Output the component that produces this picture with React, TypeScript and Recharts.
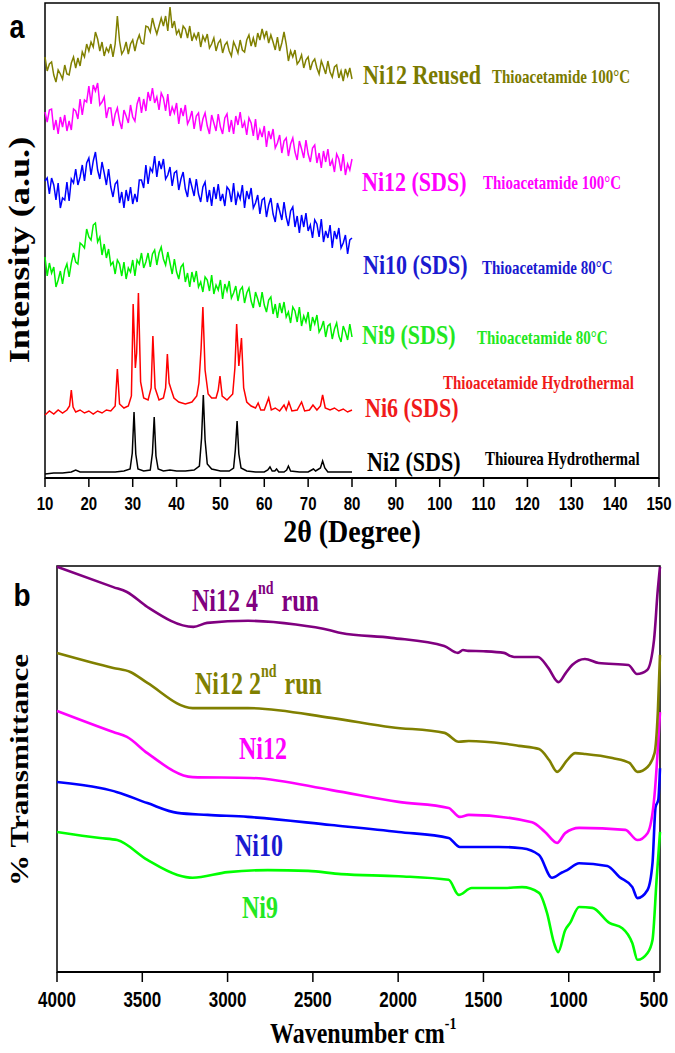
import React from "react";
import { LineChart, Line, XAxis, YAxis, ReferenceArea } from "recharts";

// ---- panel a : XRD, 2θ step 0.5° from 10 to 80 ----
const twoTheta = Array.from({ length: 141 }, (_, i) => 10 + i * 0.5);

const ni12Reused = [
  421, 407, 414, 416, 403, 396, 408, 404, 399, 413, 404, 403, 415, 421, 410, 420, 412, 426, 421, 434,
  427, 436, 431, 446, 439, 427, 436, 422, 430, 426, 434, 421, 434, 462, 437, 424, 428, 436, 424, 434,
  438, 427, 437, 443, 435, 434, 452, 451, 446, 460, 451, 444, 452, 460, 452, 462, 447, 471, 450, 457,
  444, 448, 440, 452, 449, 440, 452, 437, 444, 439, 446, 431, 442, 437, 444, 430, 434, 440, 427, 435,
  438, 425, 433, 436, 427, 422, 436, 431, 425, 438, 428, 426, 438, 443, 432, 440, 431, 445, 438, 449,
  440, 447, 435, 443, 436, 428, 441, 427, 435, 446, 434, 417, 427, 421, 428, 414, 417, 423, 410, 418,
  421, 408, 416, 419, 410, 404, 417, 411, 404, 417, 406, 401, 411, 413, 400, 407, 397, 409, 402, 410,
  399,
];

const ni12SDS = [
  366, 356, 368, 369, 348, 358, 344, 361, 351, 363, 347, 357, 348, 369, 367, 359, 379, 363, 378, 376,
  392, 374, 393, 387, 395, 373, 376, 381, 360, 370, 370, 352, 364, 370, 357, 349, 368, 362, 355, 373,
  361, 357, 374, 381, 365, 379, 367, 386, 377, 390, 375, 381, 368, 385, 380, 367, 384, 362, 371, 365,
  375, 354, 370, 362, 373, 354, 359, 367, 349, 362, 365, 347, 359, 365, 352, 344, 363, 355, 347, 364,
  351, 344, 360, 364, 346, 358, 344, 362, 353, 366, 350, 356, 343, 360, 355, 342, 359, 338, 348, 341,
  352, 331, 347, 339, 349, 330, 335, 343, 325, 337, 340, 322, 334, 340, 326, 318, 337, 329, 320, 338,
  324, 316, 330, 333, 315, 325, 310, 327, 316, 329, 312, 318, 306, 324, 319, 307, 324, 303, 314, 308,
  319,
];

const ni10SDS = [
  297, 300, 284, 300, 293, 278, 295, 270, 280, 278, 296, 277, 299, 295, 309, 293, 301, 313, 297, 315,
  320, 303, 317, 326, 308, 299, 316, 305, 293, 309, 291, 281, 294, 297, 275, 286, 270, 288, 277, 291,
  274, 284, 276, 298, 298, 290, 313, 294, 310, 306, 322, 301, 317, 309, 319, 299, 303, 311, 292, 305,
  307, 288, 299, 306, 289, 281, 300, 291, 282, 299, 284, 276, 291, 296, 276, 288, 272, 291, 279, 294,
  277, 284, 272, 291, 288, 276, 295, 273, 285, 279, 293, 270, 287, 279, 290, 270, 275, 283, 264, 278,
  280, 261, 273, 280, 264, 256, 275, 267, 258, 276, 261, 252, 267, 271, 251, 262, 245, 263, 251, 265,
  247, 253, 240, 258, 254, 241, 259, 236, 247, 240, 253, 230, 247, 239, 250, 230, 235, 243, 224, 238,
  240,
];

const ni9SDS = [
  221, 202, 215, 205, 211, 191, 198, 207, 194, 208, 214, 201, 215, 225, 216, 214, 235, 233, 230, 249,
  241, 238, 253, 255, 236, 241, 223, 234, 220, 229, 213, 216, 204, 218, 214, 202, 216, 199, 210, 206,
  218, 202, 218, 214, 225, 210, 216, 225, 211, 224, 228, 213, 225, 231, 219, 213, 226, 215, 204, 219,
  206, 199, 211, 214, 196, 205, 191, 206, 196, 207, 191, 196, 186, 201, 198, 187, 203, 184, 193, 188,
  198, 179, 194, 187, 197, 180, 185, 192, 177, 188, 191, 175, 185, 190, 177, 170, 186, 179, 171, 186,
  173, 166, 178, 181, 164, 174, 160, 175, 165, 176, 161, 166, 155, 171, 167, 156, 171, 152, 162, 156,
  166, 147, 161, 154, 163, 146, 150, 157, 141, 152, 154, 139, 149, 155, 142, 136, 152, 146, 138, 154,
  141,
];

// [2θ, intensity]
const ni6SDS = [
  [10, 63], [11, 67], [12, 64], [13, 68], [14, 65], [15, 68], [15.6, 72], [16.0, 88], [16.4, 71], [17, 66],
  [18, 68], [19, 65], [20, 67], [21, 64], [22, 67], [23, 65], [24, 68], [25, 67], [26, 72], [26.5, 109],
  [27, 74], [28, 70], [29, 72], [29.7, 82], [30.1, 174], [30.6, 110], [30.9, 125], [31.3, 185], [31.8, 96],
  [32.5, 80], [33.5, 78], [34.2, 90], [34.6, 142], [35.1, 90], [36, 78], [37, 80], [37.5, 90], [37.9, 124],
  [38.3, 95], [38.8, 88], [39.4, 80], [40.5, 76], [42, 74], [43.5, 76], [44.6, 82], [45.1, 95], [45.6, 130],
  [46.0, 171], [46.5, 108], [47.2, 84], [48, 80], [49, 80], [49.5, 88], [49.9, 102], [50.4, 82], [51.5, 78],
  [52.8, 84], [53.3, 110], [53.7, 154], [54.2, 112], [54.8, 140], [55.3, 90], [56, 76], [57, 72], [58, 70],
  [58.6, 75], [59.2, 68], [60, 68], [61, 80], [61.6, 68], [62.5, 70], [63.5, 67], [64.5, 73], [65, 68],
  [65.6, 76], [66.3, 67], [67.5, 68], [68.5, 76], [69.2, 67], [70.3, 68], [71.1, 73], [72, 68], [72.8, 72],
  [73.3, 83], [73.9, 70], [75, 68], [76, 70], [77, 67], [78, 69], [79, 66], [80, 68],
];

const ni2SDS = [
  [10, 4], [12, 5], [14, 5], [16, 6], [17, 8], [18, 6], [20, 6], [22, 6], [24, 6], [26, 6], [28, 7],
  [29.4, 9], [29.9, 25], [30.3, 66], [30.7, 24], [31.2, 9], [32.5, 7], [34, 8], [34.5, 25], [34.9, 61],
  [35.3, 22], [35.8, 9], [37, 7], [38.5, 8], [40, 7], [42, 7], [44, 8], [45.2, 12], [45.7, 40], [46.1, 83],
  [46.5, 38], [47, 14], [48, 9], [50, 7], [52, 7], [53, 10], [53.4, 28], [53.8, 57], [54.2, 24], [54.7, 10],
  [56, 7], [58, 6], [60, 6], [60.8, 8], [61.3, 11], [61.8, 7], [62.4, 7], [62.8, 9], [63.3, 6], [64.5, 6],
  [65.1, 8], [65.5, 12], [66, 7], [68, 6], [70, 6], [70.8, 8], [71.2, 9], [71.7, 7], [72.8, 10], [73.3, 17],
  [73.8, 10], [74.5, 6], [76, 6], [78, 6], [80, 6],
];

const xrdTicks = [10, 20, 30, 40, 50, 60, 70, 80, 90, 100, 110, 120, 130, 140, 150];

// ---- panel b : FTIR, [wavenumber, % transmittance (offset)] ----
const ni12Run4 = [
  [4000, 99.8], [3670, 94.8], [3590, 93.6], [3470, 89.9], [3200, 85.0], [3120, 86.0], [2880, 86.5],
  [2600, 85.6], [2400, 84.2], [2335, 83.5], [2040, 82.3], [1730, 80.3], [1650, 78.6], [1620, 79.3],
  [1590, 79.1], [1500, 79.0], [1380, 78.6], [1340, 77.8], [1320, 77.6], [1180, 77.6], [1120, 74.9],
  [1060, 71.4], [1020, 73.5], [980, 75.6], [905, 77.1], [825, 76.1], [650, 75.6], [600, 73.4],
  [540, 74.4], [500, 81.8], [478, 94.1], [465, 99.8],
];

const ni12Run2 = [
  [4000, 78.6], [3670, 74.9], [3570, 73.9], [3470, 71.2], [3205, 65.0], [2881, 65.0], [2393, 62.6],
  [2040, 60.3], [1728, 58.9], [1645, 56.7], [1586, 56.9], [1374, 56.2], [1292, 55.7], [1174, 54.9],
  [1115, 52.2], [1068, 49.3], [1009, 52.2], [962, 53.9], [903, 53.7], [744, 52.7], [644, 51.5],
  [597, 49.3], [538, 50.5], [497, 53.9], [478, 63.8], [465, 78.1],
];

const ni12 = [
  [4000, 64.3], [3670, 59.1], [3590, 57.9], [3470, 53.9], [3205, 48.0], [2865, 47.8], [2390, 44.8],
  [1998, 41.9], [1704, 40.4], [1639, 38.2], [1586, 38.7], [1215, 36.9], [1139, 34.5], [1068, 31.8],
  [1021, 34.2], [939, 35.5], [668, 35.0], [597, 32.5], [538, 34.2], [497, 43.6], [465, 64.0],
];

const ni10 = [
  [4000, 46.8], [3747, 45.3], [3647, 44.3], [3470, 41.6], [3294, 39.2], [3117, 38.7], [2881, 38.2],
  [2393, 36.2], [1998, 34.5], [1704, 33.0], [1639, 30.8], [1410, 30.8], [1274, 30.5], [1174, 28.8],
  [1098, 23.2], [1040, 24.5], [1009, 25.1], [939, 26.8], [774, 26.1], [703, 23.4], [627, 20.9],
  [597, 18.2], [538, 20.2], [509, 26.8], [491, 40.6], [475, 42.4], [465, 50.2],
];

const ni9 = [
  [4000, 34.5], [3747, 33.0], [3647, 32.5], [3470, 27.6], [3294, 23.9], [3205, 23.2], [2999, 24.6],
  [2764, 25.1], [2528, 24.9], [2334, 24.1], [1998, 23.6], [1704, 22.7], [1645, 19.0], [1569, 20.7],
  [1374, 20.7], [1274, 20.9], [1174, 19.5], [1127, 14.5], [1086, 7.1], [1062, 4.9], [1021, 10.3],
  [992, 12.1], [939, 16.0], [862, 15.8], [762, 12.1], [686, 10.8], [627, 7.1], [597, 3.0], [538, 4.7],
  [509, 7.9], [485, 22.7], [465, 34.5],
];

const ftirTicks = [4000, 3500, 3000, 2500, 2000, 1500, 1000, 500];

const SANS = "'Liberation Sans', Arial, sans-serif";
const SERIF = "'Liberation Serif', 'Times New Roman', serif";

const toRows = (ys: number[]) => ys.map((y, i) => ({ x: twoTheta[i], y }));
const toPairs = (p: number[][]) => p.map(([x, y]) => ({ x, y }));

const makeTick = (size: number, k: number) => (props: any) => {
  const { x, y, payload } = props;
  return (
    <text
      transform={`translate(${x},${y}) scale(1,${k})`}
      textAnchor="middle"
      dy="0.71em"
      fontFamily={SANS}
      fontWeight="bold"
      fontSize={size}
      fill="#000"
    >
      {payload.value}
    </text>
  );
};

const T = ({ x, y, size, color = "#000", k = 1.25, anchor = "start", family = SERIF, rotate = false, children }: any) => (
  <text
    transform={`translate(${x},${y}) scale(1,${k})${rotate ? " rotate(-90)" : ""}`}
    textAnchor={anchor}
    dominantBaseline="central"
    fontFamily={family}
    fontWeight="bold"
    fontSize={size}
    fill={color}
  >
    {children}
  </text>
);

const Sup = ({ children, size, shift }: any) => (
  <>
    <tspan dy={-shift} fontSize={size}>{children}</tspan>
    <tspan dy={shift}>{"\u200a"}</tspan>
  </>
);

export default function App() {
  const lineA = { dot: false, isAnimationActive: false, strokeWidth: 1.5, type: "linear" as const, dataKey: "y" };
  const lineB = { dot: false, isAnimationActive: false, strokeWidth: 2.6, type: "monotone" as const, dataKey: "y" };
  return (
    <div style={{ position: "relative", width: 675, height: 1053, background: "#fff" }}>
      <style>{`body{margin:0}`}</style>
      <div style={{ position: "absolute", left: 0, top: 0 }}>
        <LineChart width={675} height={540} margin={{ top: 3, right: 16, bottom: 32, left: 45 }}>
          <XAxis
            type="number"
            dataKey="x"
            domain={[10, 150]}
            ticks={xrdTicks}
            height={30}
            tickSize={9}
            tickMargin={10}
            tick={makeTick(15, 1.25)}
            axisLine={{ stroke: "#000", strokeWidth: 2 }}
            tickLine={{ stroke: "#000", strokeWidth: 1.5 }}
          />
          <YAxis type="number" domain={[0, 475]} hide />
          <ReferenceArea x1={10} x2={150} y1={0} y2={475} fill="none" stroke="#000" strokeWidth={1.5} />
          <Line {...lineA} data={toPairs(ni2SDS)} stroke="#000000" />
          <Line {...lineA} data={toPairs(ni6SDS)} stroke="#ff0000" />
          <Line {...lineA} data={toRows(ni9SDS)} stroke="#00f000" />
          <Line {...lineA} data={toRows(ni10SDS)} stroke="#0000ff" />
          <Line {...lineA} data={toRows(ni12SDS)} stroke="#ff00ff" />
          <Line {...lineA} data={toRows(ni12Reused)} stroke="#808000" />
        </LineChart>
      </div>
      <div style={{ position: "absolute", left: 0, top: 540 }}>
        <LineChart width={675} height={480} margin={{ top: 26, right: 15, bottom: 18, left: 57 }}>
          <XAxis
            type="number"
            dataKey="x"
            domain={[465, 4000]}
            reversed
            ticks={ftirTicks}
            height={30}
            tickSize={10}
            tickMargin={9}
            tick={makeTick(17, 1.3)}
            axisLine={{ stroke: "#000", strokeWidth: 2 }}
            tickLine={{ stroke: "#000", strokeWidth: 1.5 }}
          />
          <YAxis type="number" domain={[0, 100]} hide />
          <ReferenceArea x1={465} x2={4000} y1={0} y2={100} fill="none" stroke="#000" strokeWidth={1.5} />
          <Line {...lineB} data={toPairs(ni9)} stroke="#00ff00" />
          <Line {...lineB} data={toPairs(ni10)} stroke="#0000ff" />
          <Line {...lineB} data={toPairs(ni12)} stroke="#ff00ff" />
          <Line {...lineB} data={toPairs(ni12Run2)} stroke="#808000" />
          <Line {...lineB} data={toPairs(ni12Run4)} stroke="#800080" />
        </LineChart>
      </div>
      <svg width={675} height={1053} style={{ position: "absolute", left: 0, top: 0, pointerEvents: "none" }}>
        {/* panel a */}
        <T x={17} y={27} size={27} family={SANS} k={1.2} anchor="middle">a</T>
        <T x={19} y={250} size={29} anchor="middle" rotate>Intensity (a.u.)</T>
        <T x={352} y={531} size={28} k={1.15} anchor="middle">2θ (Degree)</T>

        <T x={363} y={75} size={22} color="#7a7a00">Ni12 Reused</T>
        <T x={492} y={77} size={15} color="#7a7a00">Thioacetamide 100°C</T>
        <T x={362} y={182} size={22} color="#ff00ff">Ni12 (SDS)</T>
        <T x={483} y={183} size={15} color="#ff00ff">Thioacetamide 100°C</T>
        <T x={363} y={265} size={22} color="#1a1ad0">Ni10 (SDS)</T>
        <T x={482} y={268} size={15} color="#1a1ad0">Thioacetamide 80°C</T>
        <T x={362} y={335} size={22} color="#22e822">Ni9 (SDS)</T>
        <T x={477} y={338} size={15} color="#22e822">Thioacetamide 80°C</T>
        <T x={443} y={383} size={15} color="#f01a1a">Thioacetamide Hydrothermal</T>
        <T x={365} y={408} size={22} color="#f01a1a">Ni6 (SDS)</T>
        <T x={367} y={462} size={22} color="#000">Ni2 (SDS)</T>
        <T x={485} y={459} size={15} color="#000">Thiourea Hydrothermal</T>

        {/* panel b */}
        <T x={22} y={595} size={28} family={SANS} k={1.1} anchor="middle">b</T>
        <T x={20} y={770} size={25} anchor="middle" rotate>% Transmittance</T>
        <T x={270} y={1033} size={24} k={1.2}>
          Wavenumber cm<Sup size={14} shift={9}>-1</Sup>
        </T>

        <T x={192} y={600} size={24} k={1.3} color="#800080">
          Ni12 4<Sup size={14} shift={9}>nd</Sup> run
        </T>
        <T x={195} y={683} size={24} k={1.3} color="#808000">
          Ni12 2<Sup size={14} shift={9}>nd</Sup> run
        </T>
        <T x={239} y={748} size={24} k={1.3} color="#ff00ff">Ni12</T>
        <T x={235} y={845} size={24} k={1.3} color="#1a1ad0">Ni10</T>
        <T x={242} y={907} size={24} k={1.3} color="#22e822">Ni9</T>
      </svg>
    </div>
  );
}
